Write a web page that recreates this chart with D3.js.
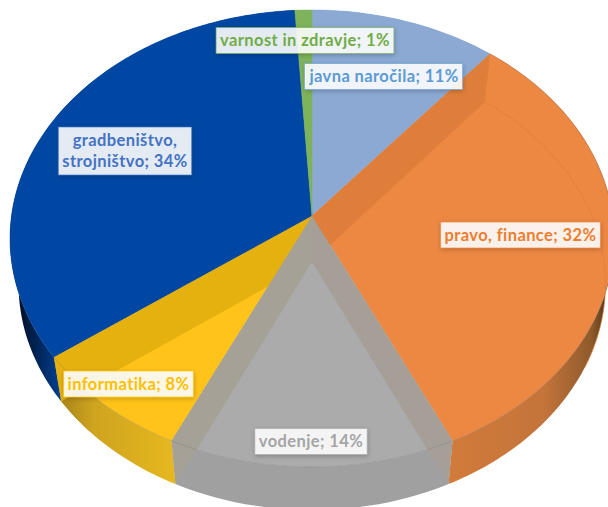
<!DOCTYPE html>
<html>
<head>
<meta charset="utf-8">
<script src="https://cdn.jsdelivr.net/npm/d3@7"></script>
<style>
  html, body { margin: 0; padding: 0; background: #fff; }
  svg { display: block; }
  text { font-family: Lato, sans-serif; font-weight: 700; font-size: 16.5px; letter-spacing: 0.4px; }
</style>
</head>
<body>
<svg id="chart" width="608" height="507"></svg>
<script>
const categories = ["javna naročila", "pravo, finance", "vodenje", "informatika", "gradbeništvo, strojništvo", "varnost in zdravje"];
const shares = [11, 32, 14, 8, 34, 1];
const faceColors = ["#8BA9D3", "#ED8843", "#ABABAB", "#FFC319", "#0047A3", "#7FB35B"];
const labelColors = ["#5B9BD5", "#ED7D31", "#A5A5A5", "#FFC000", "#4472C4", "#70AD47"];
const labelLines = [["javna naročila; 11%"], ["pravo, finance; 32%"], ["vodenje; 14%"], ["informatika; 8%"], ["gradbeništvo,", "strojništvo; 34%"], ["varnost in zdravje; 1%"]];
const labelCenters = [[384, 76.5], [520.5, 235], [311, 441.5], [128.5, 384], [125, 151], [305, 40.5]];

const svg = d3.select("#chart");
const defs = svg.append("defs");

// tilted disc: a plane circle seen in perspective
const TILT = 0.0985;
const topFace = { x: 312, y: 216, rx: 300.5, ry: 226.3 };
const bottomFace = { x: 312, y: 262, rx: 292, ry: 223.6 };

function project(face, angle) {
    const u = Math.sin(angle), v = -Math.cos(angle);
    const w = 1 - TILT * v;
    return [face.x + face.rx * u / w, face.y + face.ry * v / w];
}

function rim(face, a0, a1) {
    const n = Math.max(2, Math.ceil((a1 - a0) * 60));
    return d3.range(n + 1).map(i => project(face, a0 + (a1 - a0) * i / n));
}

const line = d3.line();
const slices = d3.pie().sort(null).value(d => d)(shares);

// side gradients run sideways, getting darker towards the silhouette
function sideGradient(id, x1, x2, stops) {
    const g = defs.append("linearGradient").attr("id", id)
        .attr("gradientUnits", "userSpaceOnUse")
        .attr("x1", x1).attr("x2", x2).attr("y1", 0).attr("y2", 0);
    stops.forEach(([o, c]) => g.append("stop").attr("offset", o).attr("stop-color", c));
}
sideGradient("side1", 447, 608, [[0, "#D27B3B"], [0.6, "#C4743A"], [0.9, "#8F5A2B"], [1, "#4F3418"]]);
sideGradient("side3", 60, 175, [[0, "#A8851A"], [0.3, "#CFA41E"], [1, "#E6B820"]]);
sideGradient("side4", 18, 60, [[0, "#000F26"], [0.5, "#00275C"], [1, "#003F90"]]);
const sideFills = ["#7F9AC2", "url(#side1)", "#A0A0A0", "url(#side3)", "url(#side4)", "#6E9E4E"];

const shadow = defs.append("filter").attr("id", "labelShadow")
    .attr("x", "-10%").attr("y", "-20%").attr("width", "120%").attr("height", "150%");
shadow.append("feDropShadow").attr("dx", 0.5).attr("dy", 1.5).attr("stdDeviation", 2)
    .attr("flood-color", "#000").attr("flood-opacity", 0.25);

// outer walls
svg.append("g").selectAll("path").data(slices).enter().append("path")
    .attr("d", d => line(rim(topFace, d.startAngle, d.endAngle)
        .concat(rim(bottomFace, d.startAngle, d.endAngle).reverse())) + "Z")
    .attr("fill", (d, i) => sideFills[i]);

// top face
svg.append("g").selectAll("path").data(slices).enter().append("path")
    .attr("d", d => line([[topFace.x, topFace.y]].concat(rim(topFace, d.startAngle, d.endAngle))) + "Z")
    .attr("fill", (d, i) => faceColors[i])
    .attr("stroke", (d, i) => faceColors[i])
    .attr("stroke-width", 0.5);

// inner cut walls, seen through the slices
const cutWalls = [
    { slice: 0, fill: "#DF7E3A" },
    { slice: 3, fill: "#E5B10F" },
    { slice: 1, fill: "#A59F97" },
    { slice: 2, fill: "#A5A196" }
];
svg.append("g").selectAll("path").data(cutWalls).enter().append("path")
    .attr("d", d => {
        const a = slices[d.slice].endAngle;
        return line([[topFace.x, topFace.y], project(topFace, a), project(bottomFace, a), [bottomFace.x, bottomFace.y]]) + "Z";
    })
    .attr("fill", d => d.fill);

// faint rim lines
const rimLines = svg.append("g").attr("fill", "none");
rimLines.append("path")
    .attr("d", line(rim(topFace, slices[1].startAngle, slices[3].endAngle)))
    .attr("stroke", "#6e6e6e").attr("stroke-opacity", 0.4).attr("stroke-width", 0.7);
rimLines.append("path")
    .attr("d", line(rim(bottomFace, slices[1].startAngle, slices[1].startAngle + 1.35)))
    .attr("stroke", "#DB7C3A").attr("stroke-width", 0.7);

// data labels
const labels = svg.append("g").selectAll("g").data(categories).enter().append("g")
    .attr("transform", (d, i) => `translate(${labelCenters[i]})`);
const boxes = labels.append("rect")
    .attr("fill", "#fff").attr("fill-opacity", 0.88)
    .attr("stroke", (d, i) => labelColors[i]).attr("stroke-opacity", 0.6).attr("stroke-width", 1)
    .attr("filter", "url(#labelShadow)");
labels.append("text")
    .attr("fill", (d, i) => labelColors[i])
    .attr("text-anchor", "middle")
    .each(function (d, i) {
        const rows = labelLines[i];
        d3.select(this).selectAll("tspan").data(rows).enter().append("tspan")
            .attr("x", 0)
            .attr("y", (r, j) => (j - (rows.length - 1) / 2) * 21 + 5.5)
            .text(r => r);
    });
boxes.each(function (d, i) {
    const b = this.parentNode.querySelector("text").getBBox();
    const h = labelLines[i].length > 1 ? 48 : 26;
    d3.select(this).attr("x", b.x - 4).attr("width", b.width + 8).attr("y", -h / 2).attr("height", h);
});
</script>
</body>
</html>
